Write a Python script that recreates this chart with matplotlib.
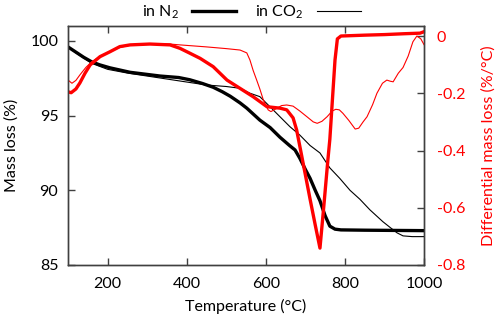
import matplotlib
matplotlib.use("Agg")
import matplotlib.pyplot as plt

plt.rcParams['font.family'] = ['Lato', 'DejaVu Sans']
plt.rcParams['mathtext.default'] = 'regular'

# ---- data ----
T_mass_n2 = [100, 120, 140, 160, 180, 206, 257, 333, 380, 408, 440, 467, 490, 510, 535,
             552, 585, 611, 636, 660, 674, 686, 700, 712, 725, 737, 750, 762, 775, 790,
             850, 1000]
mass_n2 = [99.6, 99.25, 98.9, 98.6, 98.4, 98.2, 97.9, 97.65, 97.55, 97.4, 97.15, 96.9, 96.6,
           96.3, 95.85, 95.5, 94.7, 94.2, 93.55, 93.0, 92.7, 92.15, 91.4, 90.8, 90.0, 89.3,
           88.3, 87.6, 87.4, 87.35, 87.33, 87.3]

T_mass_co2 = [100, 120, 140, 160, 200, 250, 300, 350, 400, 450, 500, 535, 560, 585, 618,
              661, 686, 712, 737, 762, 787, 813, 838, 863, 896, 915, 932, 947, 970, 1000]
mass_co2 = [99.6, 99.2, 98.85, 98.5, 98.1, 97.85, 97.65, 97.45, 97.25, 97.05, 96.95, 96.83,
            96.5, 96.27, 95.4, 94.26, 93.7, 93.0, 92.5, 91.5, 90.8, 90.0, 89.4, 88.7, 87.9,
            87.5, 87.15, 86.95, 86.9, 86.9]

T_dtg_n2 = [100, 108, 120, 130, 143, 156, 181, 206, 231, 257, 307, 358, 383, 408, 434, 467,
            502, 535, 568, 603, 636, 653, 669, 678, 691, 712, 725, 737, 747, 757, 762, 775,
            781, 790, 850, 900, 950, 990, 1000]
dtg_n2 = [-0.195, -0.198, -0.185, -0.164, -0.13, -0.101, -0.072, -0.055, -0.037, -0.031,
          -0.028, -0.031, -0.043, -0.06, -0.078, -0.107, -0.154, -0.183, -0.212, -0.247,
          -0.252, -0.258, -0.286, -0.328, -0.42, -0.57, -0.66, -0.741, -0.59, -0.433, -0.36,
          -0.084, -0.01, 0.0, 0.003, 0.005, 0.008, 0.01, 0.015]

T_dtg_co2 = [100, 110, 120, 130, 145, 160, 180, 206, 231, 257, 300, 358, 383, 450, 500, 535,
             552, 560, 568, 577, 585, 594, 606, 613, 625, 640, 653, 669, 686, 704, 720, 730,
             742, 755, 768, 777, 786, 795, 810, 826, 835, 846, 856, 870, 881, 895, 906, 915,
             922, 935, 947, 960, 972, 982, 992, 1000]
dtg_co2 = [-0.154, -0.165, -0.155, -0.136, -0.11, -0.09, -0.072, -0.055, -0.04, -0.032,
           -0.028, -0.028, -0.031, -0.038, -0.044, -0.049, -0.059, -0.084, -0.12, -0.154,
           -0.185, -0.224, -0.258, -0.264, -0.255, -0.243, -0.241, -0.245, -0.262, -0.282,
           -0.300, -0.305, -0.298, -0.282, -0.262, -0.256, -0.258, -0.27, -0.295, -0.325,
           -0.322, -0.30, -0.282, -0.24, -0.2, -0.165, -0.154, -0.158, -0.16, -0.13, -0.11,
           -0.07, -0.02, 0.0, -0.01, -0.03]

x_ticks = [200, 400, 600, 800, 1000]
mass_ticks = [85, 90, 95, 100]
dtg_ticks = [-0.8, -0.6, -0.4, -0.2, 0]
dtg_ticklabels = ['-0.8', '-0.6', '-0.4', '-0.2', '0']

# ---- figure ----
fig = plt.figure(figsize=(4.98, 3.21), dpi=100)
ax = fig.add_axes([68/498, 1-265/321, (424-68)/498, (265-26)/321])
ax2 = ax.twinx()

spine_c = '#404040'
l1, = ax.plot(T_mass_n2, mass_n2, color='black', lw=2.4, label='in N$_2$', zorder=3)
l2, = ax.plot(T_mass_co2, mass_co2, color='black', lw=0.8, label='in CO$_2$', zorder=3)
ax2.plot(T_dtg_n2, dtg_n2, color='red', lw=2.4)
ax2.plot(T_dtg_co2, dtg_co2, color='red', lw=0.8)

ax.set_xlim(100, 1000)
ax.set_ylim(85, 101)
ax2.set_ylim(-0.8, 0.035)

ax.set_xticks(x_ticks)
ax.set_yticks(mass_ticks)
ax2.set_yticks(dtg_ticks)
ax2.set_yticklabels(dtg_ticklabels)

fs = 11.5
ax.tick_params(axis='x', direction='in', length=5, width=1, color=spine_c,
               labelsize=fs, pad=9, top=True)
ax.tick_params(axis='y', direction='in', length=5, width=1, color=spine_c,
               labelsize=fs, pad=7)
ax2.tick_params(axis='y', direction='in', length=5, width=1, color=spine_c,
                labelsize=fs, labelcolor='red', pad=9)

for a in (ax, ax2):
    for s in a.spines.values():
        s.set_color(spine_c)
        s.set_linewidth(1.0)

ax.set_xlabel('Temperature (°C)', fontsize=fs, labelpad=5)
ax.set_ylabel('Mass loss (%)', fontsize=fs, labelpad=8)
ax2.set_ylabel('Differential mass loss (%/°C)', fontsize=fs, color='red', labelpad=12)

fig.legend(handles=[l1, l2], loc='center', bbox_to_anchor=(0.505, 1-12/321), ncol=2,
           frameon=False, markerfirst=False, fontsize=fs, handlelength=2.8,
           handletextpad=0.8, columnspacing=1.2, borderpad=0)

fig.savefig('out.png', dpi=100)
